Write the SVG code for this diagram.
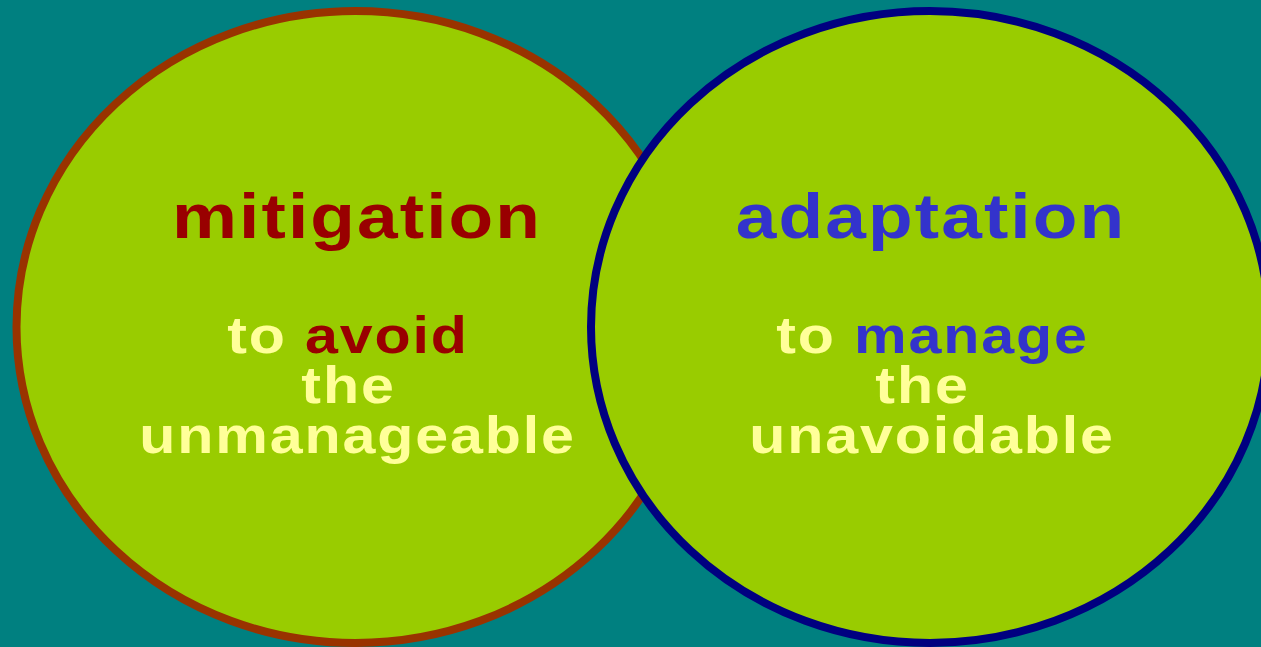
<svg xmlns="http://www.w3.org/2000/svg" width="1261" height="647" viewBox="0 0 1261 647">
<style>
.bg{fill:#008080}
.circ{fill:#99CC00;stroke-width:8}
.t{font-family:"Liberation Sans",Arial,Helvetica,sans-serif;font-weight:bold;text-anchor:middle}
.h{font-size:63px;letter-spacing:1.8px}
.s{font-size:51px;letter-spacing:1.6px;fill:#FFFF99}
.red{fill:#990000}
.blue{fill:#3333CC}
</style>
<rect class="bg" x="0" y="0" width="1261" height="647"/>
<g id="mitigation">
<ellipse class="circ" cx="355.5" cy="327" rx="339" ry="316" stroke="#993300"/>
<text class="t h red" transform="translate(357 238) scale(1.16 1)">mitigation</text>
<text class="t s" transform="translate(348 353) scale(1.16 1)">to <tspan class="red">avoid</tspan></text>
<text class="t s" transform="translate(348.5 403) scale(1.16 1)">the</text>
<text class="t s" transform="translate(357.5 453) scale(1.16 1)">unmanageable</text>
</g>
<g id="adaptation">
<ellipse class="circ" cx="930" cy="327" rx="339" ry="316" stroke="#000080"/>
<text class="t h blue" transform="translate(931 238) scale(1.16 1)">adaptation</text>
<text class="t s" transform="translate(932.5 353) scale(1.16 1)">to <tspan class="blue">manage</tspan></text>
<text class="t s" transform="translate(922.5 403) scale(1.16 1)">the</text>
<text class="t s" transform="translate(932 453) scale(1.16 1)">unavoidable</text>
</g>
</svg>
